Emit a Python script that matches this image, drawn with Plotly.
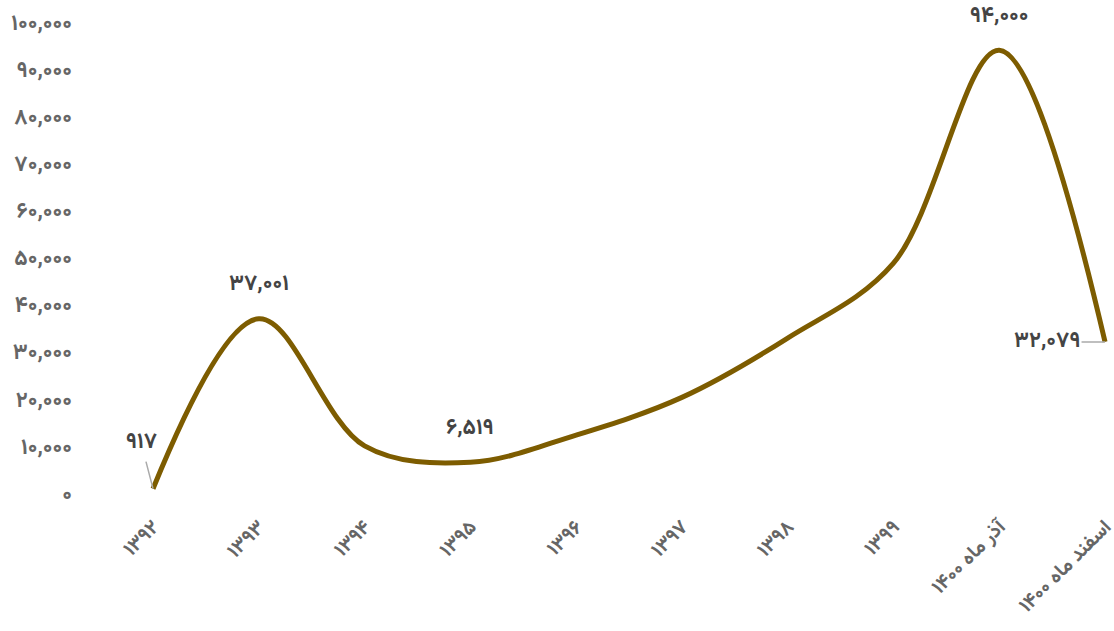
import plotly.graph_objects as go

categories = ["۱۳۹۲", "۱۳۹۳", "۱۳۹۴", "۱۳۹۵", "۱۳۹۶", "۱۳۹۷", "۱۳۹۸", "۱۳۹۹",
              "آذر ماه ۱۴۰۰", "اسفند ماه ۱۴۰۰"]
values = [917, 37001, 10000, 6519, 12300, 20300, 32900, 48800, 94000, 32079]

y_tickvals = [0, 10000, 20000, 30000, 40000, 50000, 60000, 70000, 80000, 90000, 100000]
y_ticktext = ["۰", "۱۰,۰۰۰", "۲۰,۰۰۰", "۳۰,۰۰۰", "۴۰,۰۰۰", "۵۰,۰۰۰",
              "۶۰,۰۰۰", "۷۰,۰۰۰", "۸۰,۰۰۰", "۹۰,۰۰۰", "۱۰۰,۰۰۰"]

# labelled points: index, text
label_idx = [0, 1, 3, 8, 9]
label_text = ["۹۱۷", "۳۷,۰۰۱", "۶,۵۱۹", "۹۴,۰۰۰", "۳۲,۰۷۹"]

FONT = "Vazirmatn, 'Noto Sans Arabic', 'DejaVu Sans'"
x = list(range(len(categories)))

fig = go.Figure()
fig.add_trace(go.Scatter(
    x=x, y=values, mode="lines",
    line=dict(color="#7D5C00", width=5, shape="spline", smoothing=1.0),
    cliponaxis=False, hoverinfo="skip", showlegend=False,
))

annotations = []
for i, t in zip(label_idx, label_text):
    a = dict(x=x[i], y=values[i], text="<b>" + t + "</b>",
             font=dict(family=FONT, size=22, color="#444444"))
    if i == 0:
        a.update(showarrow=True, arrowhead=0, arrowwidth=1.5, arrowcolor="#aaaaaa",
                 ax=-12, ay=-46, standoff=0)
    elif i == len(categories) - 1:
        a.update(showarrow=True, arrowhead=0, arrowwidth=1.5, arrowcolor="#aaaaaa",
                 ax=-58, ay=0, standoff=0)
    else:
        a.update(showarrow=False, yshift=34)
    annotations.append(a)

fig.update_layout(
    width=1114, height=631,
    margin=dict(l=85, r=4, t=10, b=131),
    paper_bgcolor="white", plot_bgcolor="white",
    annotations=annotations,
    font=dict(family=FONT),
)
fig.update_xaxes(
    range=[-0.643, 9.047], tickvals=x, ticktext=["<b>" + c + "</b>" for c in categories],
    tickangle=-45, ticklabeloverflow="allow", ticklabelstandoff=10, automargin=False,
    showgrid=False, zeroline=False, showline=False, ticks="",
    tickfont=dict(family=FONT, size=20, color="#666666"),
)
fig.update_yaxes(
    range=[-1486, 102548], tickvals=y_tickvals, ticktext=["<b>" + t + "</b>" for t in y_ticktext],
    showgrid=False, zeroline=False, showline=False, ticks="", ticklabelstandoff=12,
    automargin=False,
    tickfont=dict(family=FONT, size=22, color="#666666"),
)
fig.write_html("out.html")
